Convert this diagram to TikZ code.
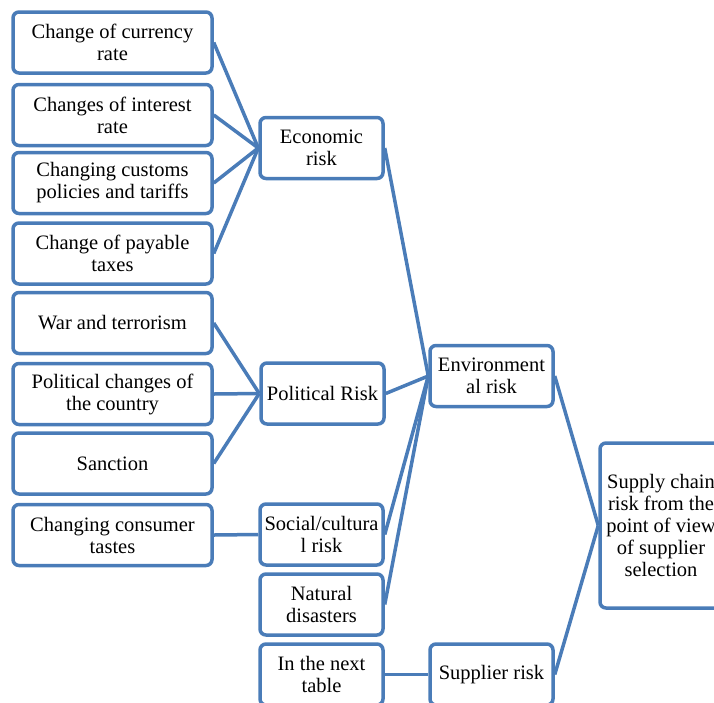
\documentclass[tikz,border=0pt]{standalone}
\usepackage{fontspec}
\setmainfont{Liberation Serif}
\newfontfamily\tnr{Liberation Serif}
\definecolor{bl}{RGB}{74,124,184}
\begin{document}
\begin{tikzpicture}[x=1pt,y=-1pt,
  box/.style={draw=bl,line width=3.5pt,rounded corners=6pt,fill=white,align=center,
    inner sep=0pt,font=\tnr\fontsize{20.5}{22}\selectfont},
  lbox/.style={box,minimum width=199pt,minimum height=61pt},
  mbox/.style={box,minimum width=123pt,minimum height=61pt},
  link/.style={draw=bl,line width=3.5pt}]
\useasboundingbox (0,0) rectangle (714,702);
\clip (0,0) rectangle (714,702);
% left column
\node[lbox] (l1) at (112.5,42.5) {Change of currency\\rate};
\node[lbox] (l2) at (112.5,115) {Changes of interest\\rate};
\node[lbox] (l3) at (112.5,183) {Changing customs\\policies and tariffs};
\node[lbox] (l4) at (112.5,253.5) {Change of payable\\taxes};
\node[lbox] (l5) at (112.5,323) {War and terrorism};
\node[lbox] (l6) at (112.5,394) {Political changes of\\the country};
\node[lbox] (l7) at (112.5,463.5) {Sanction};
\node[lbox] (l8) at (112.5,535) {Changing consumer\\tastes};
% middle column
\node[mbox] (eco) at (321.5,148) {Economic\\risk};
\node[mbox] (pol) at (322.5,393.5) {Political Risk};
\node[mbox] (soc) at (321.5,534.5) {Social/cultura\\l risk};
\node[mbox] (nat) at (321.5,604.5) {Natural\\disasters};
\node[mbox] (nxt) at (321.5,674.5) {In the next\\table};
% third column
\node[mbox] (env) at (491.5,376) {Environment\\al risk};
\node[mbox] (sup) at (491.5,674.5) {Supplier risk};
% right
\node[box,minimum width=122pt,minimum height=165pt] (sc) at (661,525.5)
  {Supply chain\\risk from the\\point of view\\of supplier\\selection};
% connectors
\foreach \a in {l1,l2,l3,l4} \draw[link] (\a.east) -- (eco.west);
\foreach \a in {l5,l6,l7} \draw[link] (\a.east) -- (pol.west);
\draw[link] (l8.east) -- (soc.west);
\foreach \a in {eco,pol,soc,nat} \draw[link] (\a.east) -- (env.west);
\draw[link] (nxt.east) -- (sup.west);
\draw[link] (env.east) -- (sc.west);
\draw[link] (sup.east) -- (sc.west);
\end{tikzpicture}
\end{document}
